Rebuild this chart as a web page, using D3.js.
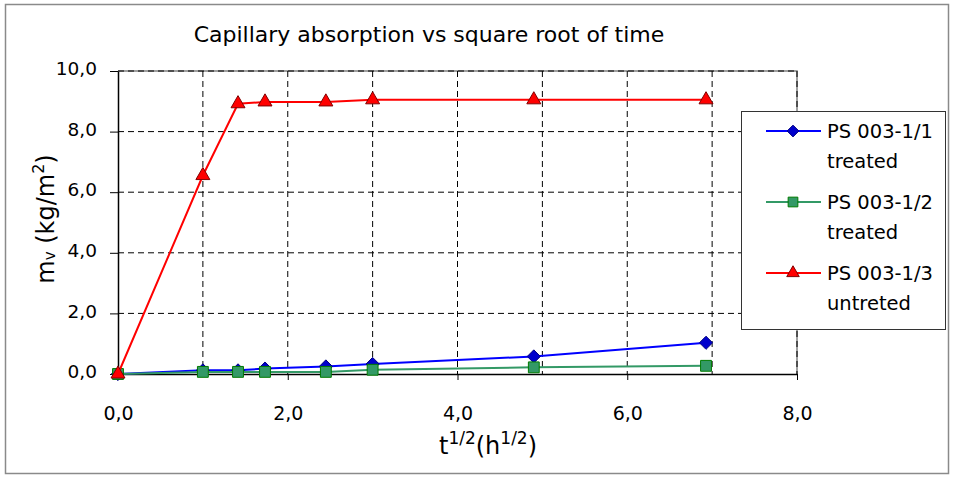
<!DOCTYPE html>
<html><head><meta charset="utf-8">
<script src="https://cdn.jsdelivr.net/npm/d3@7"></script>
<style>
html,body{margin:0;padding:0;background:#fff;}
svg text{font-family:"DejaVu Sans",sans-serif;fill:#000;}
</style></head>
<body>
<svg id="chart" width="954" height="477"></svg>
<script>
// ---- data ----
const xValues = [0, 1, 1.414, 1.732, 2.449, 3, 4.899, 6.928];
const seriesNames = [["PS 003-1/1", "treated"], ["PS 003-1/2", "treated"], ["PS 003-1/3", "untreted"]];
const series1 = [0, 0.12, 0.12, 0.18, 0.25, 0.33, 0.58, 1.03];
const series2 = [0, 0.07, 0.07, 0.07, 0.07, 0.14, 0.22, 0.27];
const series3 = [0, 6.55, 8.92, 8.98, 8.98, 9.05, 9.05, 9.05];
const xTicks = [0, 2, 4, 6, 8];
const xGrid = [1, 2, 3, 4, 5, 6, 7, 8];
const yTicks = [0, 2, 4, 6, 8, 10];
const title = "Capillary absorption vs square root of time";

const fmt = v => d3.format(".1f")(v).replace(".", ",");

const svg = d3.select("#chart");
// outer frame
svg.append("rect").attr("x", 5.5).attr("y", 4.5).attr("width", 943).attr("height", 469)
  .attr("fill", "#fff").attr("stroke", "#8a8a8a").attr("stroke-width", 1.5);

const x = d3.scaleLinear().domain([0, 8]).range([118, 797]);
const y = d3.scaleLinear().domain([0, 10]).range([374, 71]);

// title
svg.append("text").attr("x", 429).attr("y", 42).attr("text-anchor", "middle")
  .attr("font-size", 22).text(title);

// plot border (gray)
svg.append("path").attr("d", `M${x(0)},${y(10)}H${x(8)}V${y(0)}`)
  .attr("fill", "none").attr("stroke", "#808080").attr("stroke-width", 1.5);

// gridlines
const g = svg.append("g");
g.selectAll(".hg").data(yTicks.filter(d => d > 0)).join("line")
  .attr("x1", x(0)).attr("x2", x(8)).attr("y1", d => y(d)).attr("y2", d => y(d))
  .attr("stroke", "#000").attr("stroke-width", 1).attr("stroke-dasharray", "6,4");
g.selectAll(".vg").data(xGrid).join("line")
  .attr("x1", d => x(d)).attr("x2", d => x(d)).attr("y1", y(10)).attr("y2", y(0))
  .attr("stroke", "#000").attr("stroke-width", 1).attr("stroke-dasharray", "6,4");

// axes
const xAxis = d3.axisBottom(x).tickValues(xTicks).tickFormat(fmt).tickSizeInner(6).tickSizeOuter(0).tickPadding(27);
const yAxis = d3.axisLeft(y).tickValues(yTicks).tickFormat(fmt).tickSizeInner(8).tickSizeOuter(0).tickPadding(13);
const gx = svg.append("g").attr("transform", `translate(0,${y(0)})`).call(xAxis);
const gy = svg.append("g").attr("transform", `translate(${x(0)},0)`).call(yAxis);
[gx, gy].forEach(a => {
  a.select(".domain").attr("stroke", "#000").attr("stroke-width", 1.5);
  a.selectAll(".tick line").attr("stroke", "#000").attr("stroke-width", 1);
  a.selectAll(".tick text").attr("font-size", 19).attr("fill", "#000")
    .style("font-family", '"DejaVu Sans",sans-serif');
});
gy.selectAll(".tick text").attr("dy", "0.2em").attr("font-size", 18.5);

// axis titles
const xt = svg.append("text").attr("x", 488).attr("y", 454).attr("text-anchor", "middle").attr("font-size", 24);
xt.append("tspan").text("t");
xt.append("tspan").attr("dy", -10).attr("font-size", 17).text("1/2");
xt.append("tspan").attr("dy", 10).text("(h");
xt.append("tspan").attr("dy", -10).attr("font-size", 17).text("1/2");
xt.append("tspan").attr("dy", 10).text(")");

const yt = svg.append("text").attr("transform", "translate(54,219) rotate(-90)")
  .attr("text-anchor", "middle").attr("font-size", 24);
yt.append("tspan").text("m");
yt.append("tspan").attr("font-size", 15).attr("dy", 1).text("v");
yt.append("tspan").attr("dy", -1).text(" (kg/m");
yt.append("tspan").attr("font-size", 16).attr("dy", -10).text("2");
yt.append("tspan").attr("dy", 10).text(")");

// series
const styles = [
  {line: "#0000ff", fill: "#0000cc", stroke: "#000080", sym: d3.symbolDiamond2, size: 110},
  {line: "#339966", fill: "#339966", stroke: "#007a00", sym: d3.symbolSquare2, size: 150},
  {line: "#ff0000", fill: "#ff0000", stroke: "#800000", sym: d3.symbolTriangle2, size: 140}
];
const allSeries = [series1, series2, series3];
const line = d3.line().x(d => x(d[0])).y(d => y(d[1]));
const markerPath = (s, k = 1) => d3.symbol().type(s.sym).size(s.size * k)();
allSeries.forEach((vals, i) => {
  const s = styles[i];
  const pts = xValues.map((xv, j) => [xv, vals[j]]);
  svg.append("path").datum(pts).attr("d", line).attr("fill", "none")
    .attr("stroke", s.line).attr("stroke-width", 2);
  svg.selectAll(null).data(pts).join("path")
    .attr("transform", d => `translate(${x(d[0])},${y(d[1])})`)
    .attr("d", markerPath(s)).attr("fill", s.fill).attr("stroke", s.stroke).attr("stroke-width", 1);
});

// legend
const lg = svg.append("g");
lg.append("rect").attr("x", 741.5).attr("y", 111.5).attr("width", 204).attr("height", 218)
  .attr("fill", "#fff").attr("stroke", "#333").attr("stroke-width", 1);
seriesNames.forEach((nm, i) => {
  const s = styles[i];
  const ly = 131 + i * 71;
  lg.append("line").attr("x1", 766).attr("x2", 821).attr("y1", ly).attr("y2", ly)
    .attr("stroke", s.line).attr("stroke-width", 2);
  lg.append("path").attr("transform", `translate(793,${ly})`).attr("d", markerPath(s, 0.8))
    .attr("fill", s.fill).attr("stroke", s.stroke).attr("stroke-width", 1);
  lg.append("text").attr("x", 827).attr("y", ly + 7).attr("font-size", 19.5).text(nm[0]);
  lg.append("text").attr("x", 827).attr("y", ly + 37).attr("font-size", 19.5).text(nm[1]);
});
</script>
</body></html>
